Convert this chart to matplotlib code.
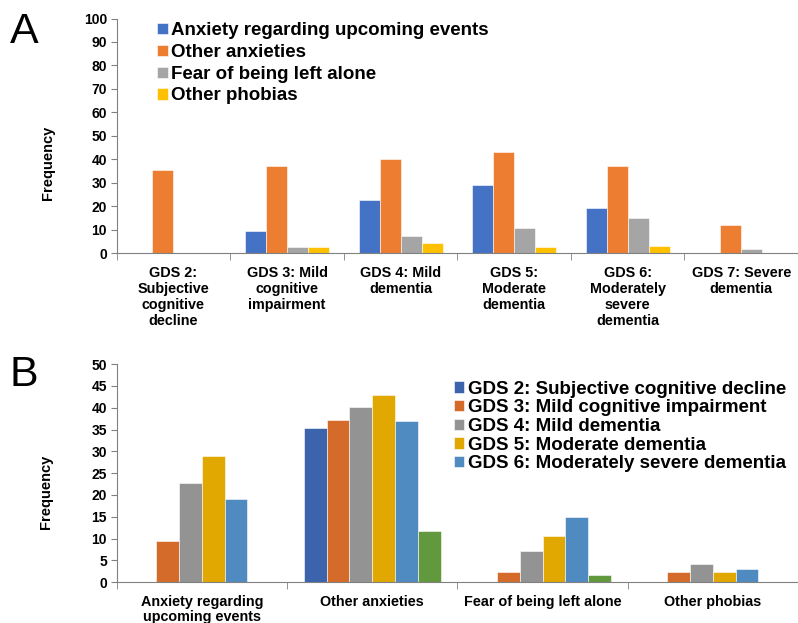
import matplotlib.pyplot as plt
import numpy as np

plt.rcParams['font.family'] = ['Liberation Sans', 'DejaVu Sans']

# stages (panel A categories / panel B series)
stages = ["GDS 2:\nSubjective\ncognitive\ndecline", "GDS 3: Mild\ncognitive\nimpairment",
          "GDS 4: Mild\ndementia", "GDS 5:\nModerate\ndementia",
          "GDS 6:\nModerately\nsevere\ndementia", "GDS 7: Severe\ndementia"]
stage_names = ["GDS 2: Subjective cognitive decline", "GDS 3: Mild cognitive impairment",
               "GDS 4: Mild dementia", "GDS 5: Moderate dementia",
               "GDS 6: Moderately severe dementia", "GDS 7: Severe dementia"]

# symptom types (panel A series / panel B categories)
symptoms = ["Anxiety regarding upcoming events", "Other anxieties",
            "Fear of being left alone", "Other phobias"]
symptom_ticks = ["Anxiety regarding\nupcoming events", "Other anxieties",
                 "Fear of being left alone", "Other phobias"]

anxiety_upcoming = [0, 9.4, 22.7, 29.0, 19.0, 0]
other_anxieties = [35.3, 37.2, 40.1, 42.9, 36.9, 11.8]
fear_left_alone = [0, 2.4, 7.2, 10.5, 14.9, 1.7]
other_phobias = [0, 2.4, 4.1, 2.4, 3.0, 0]

data = np.array([anxiety_upcoming, other_anxieties, fear_left_alone, other_phobias])

colors_a = ['#4472C4', '#ED7D31', '#A5A5A5', '#FFC000']
colors_b = ['#3C64AC', '#D46B2A', '#939393', '#E0A800', '#4F8BC0', '#62993E']

fig = plt.figure(figsize=(7.98, 6.23), dpi=100)

spine_col = '#808080'


def style_axes(ax, ncat):
    for s in ['top', 'right']:
        ax.spines[s].set_visible(False)
    ax.spines['left'].set_color(spine_col)
    ax.spines['bottom'].set_color(spine_col)
    ax.set_xlim(-0.5, ncat - 0.5)
    ax.set_xticks(np.arange(ncat))
    ax.set_xticks(np.arange(ncat + 1) - 0.5, minor=True)
    ax.tick_params(axis='x', which='major', length=0, pad=9)
    ax.tick_params(axis='x', which='minor', length=5, color=spine_col, direction='out')
    ax.tick_params(axis='y', length=4, color=spine_col, pad=3)
    for lab in ax.get_yticklabels():
        lab.set_fontweight('bold')
        lab.set_fontsize(10)


leg_kw = dict(frameon=False, prop={'size': 13.5, 'weight': 'bold'}, handlelength=0.55,
              handleheight=0.55, handletextpad=0.2, borderaxespad=0, borderpad=0)

# ---- panel A ----
axA = fig.add_axes([0.1462, 0.5939, 0.8538, 0.3764])
n = len(symptoms)
w = 0.185
x = np.arange(len(stages))
for i in range(n):
    axA.bar(x + (i - (n - 1) / 2) * w, data[i], w, color=colors_a[i],
            edgecolor='white', linewidth=0.4, label=symptoms[i])
axA.set_ylim(0, 100)
axA.set_yticks(np.arange(0, 101, 10))
style_axes(axA, len(stages))
axA.set_xticklabels(stages, fontsize=10.4, fontweight='bold', linespacing=1.2)
axA.legend(loc='upper left', bbox_to_anchor=(0.197, 0.964),
           bbox_transform=fig.transFigure, labelspacing=0.25, **leg_kw)

# ---- panel B ----
axB = fig.add_axes([0.1462, 0.0653, 0.8538, 0.3504])
m = len(stage_names)
wb = 0.134
xb = np.arange(len(symptoms))
handles = []
for j in range(m):
    b = axB.bar(xb + (j - (m - 1) / 2) * wb, data[:, j], wb, color=colors_b[j],
                edgecolor='white', linewidth=0.4, label=stage_names[j])
    handles.append(b)
axB.set_ylim(0, 50)
axB.set_yticks(np.arange(0, 51, 5))
style_axes(axB, len(symptoms))
axB.set_xticklabels(symptom_ticks, fontsize=10.4, fontweight='bold', linespacing=1.1)
axB.legend(handles[:5], stage_names[:5], loc='upper left', bbox_to_anchor=(0.569, 0.389),
           bbox_transform=fig.transFigure, labelspacing=0.09, **leg_kw)

# panel letters and axis titles
fig.text(0.012, 0.948, 'A', fontsize=31, va='center', ha='left')
fig.text(0.012, 0.398, 'B', fontsize=31, va='center', ha='left')
fig.text(0.060, 0.738, 'Frequency', rotation=90, fontsize=10.5, fontweight='bold',
         ha='center', va='center')
fig.text(0.058, 0.210, 'Frequency', rotation=90, fontsize=10.5, fontweight='bold',
         ha='center', va='center')

fig.savefig('out.png', dpi=100)
